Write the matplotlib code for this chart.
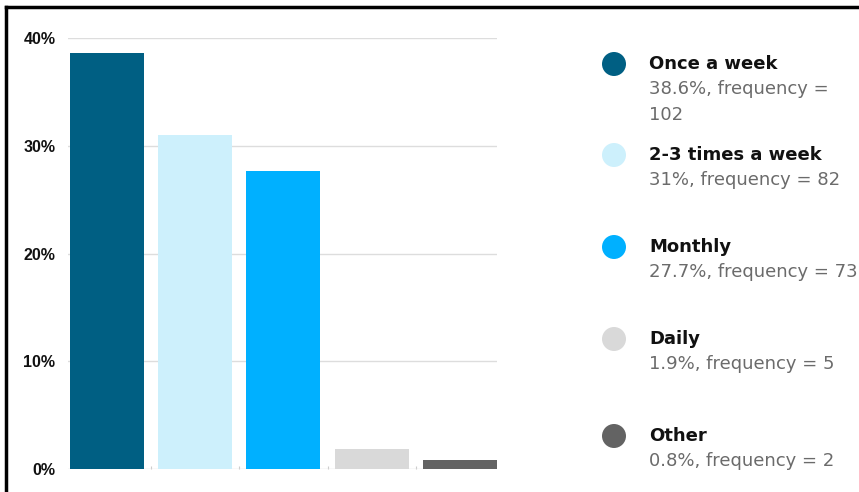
import matplotlib.pyplot as plt
from matplotlib.lines import Line2D
from matplotlib.patches import Ellipse

# Data
categories = ['Once a week', '2-3 times a week', 'Monthly', 'Daily', 'Other']
shares = [38.6, 31, 27.7, 1.9, 0.8]
share_text = ['38.6%', '31%', '27.7%', '1.9%', '0.8%']
frequency = [102, 82, 73, 5, 2]
colors = ['#005f83', '#cdf0fc', '#00b0ff', '#d9d9d9', '#636363']
yticks = [0, 10, 20, 30, 40]

W, H = 859, 492
fig = plt.figure(figsize=(W / 100, H / 100), dpi=100)
fig.patch.set_facecolor('white')

ax = fig.add_axes([68 / W, 1 - 469 / H, 429 / W, 431 / H])
x = range(len(categories))
ax.bar(x, shares, width=0.84, color=colors, zorder=2)

ax.set_xlim(-0.44, 4.42)
ax.set_ylim(0, 40)
ax.set_yticks(yticks)
ax.set_yticklabels([f'{t}%' for t in yticks], fontweight='bold',
                   fontsize=11.5, family='Liberation Sans', color='#111111')
ax.tick_params(axis='y', length=0, pad=9)
ax.set_xticks([0.5, 1.5, 2.5, 3.5])
ax.set_xticklabels([])
ax.tick_params(axis='x', length=2, color='#cccccc', direction='in')
ax.yaxis.grid(True, color='#dddddd', linewidth=1, zorder=0)
for s in ax.spines.values():
    s.set_visible(False)

# Legend on the right: dot, bold name, grey value line
legend_y = [64, 155, 247, 339, 436]
for name, pct, freq, col, yy in zip(categories, share_text, frequency, colors, legend_y):
    fy = 1 - yy / H
    fig.add_artist(Ellipse((614 / W, fy), 24 / W, 24 / H, transform=fig.transFigure,
                           facecolor=col, edgecolor='none'))
    fig.text(649 / W, fy, name, fontsize=13, fontweight='bold',
             family='DejaVu Sans', color='#111111', va='center')
    value = f'{pct}, frequency = {freq}'
    if freq == 102:
        value = f'{pct}, frequency =\n{freq}'
    fig.text(649 / W, 1 - (yy + 16) / H, value, fontsize=13,
             family='DejaVu Sans', color='#6b6b6b', va='top', linespacing=1.55)

# Black frame along top and left edge
fig.add_artist(Line2D([6 / W, 1], [1 - 7 / H, 1 - 7 / H],
                      transform=fig.transFigure, color='black', linewidth=2.5))
fig.add_artist(Line2D([6 / W, 6 / W], [0, 1 - 7 / H],
                      transform=fig.transFigure, color='black', linewidth=2.5))

fig.savefig('out.png', dpi=100)
